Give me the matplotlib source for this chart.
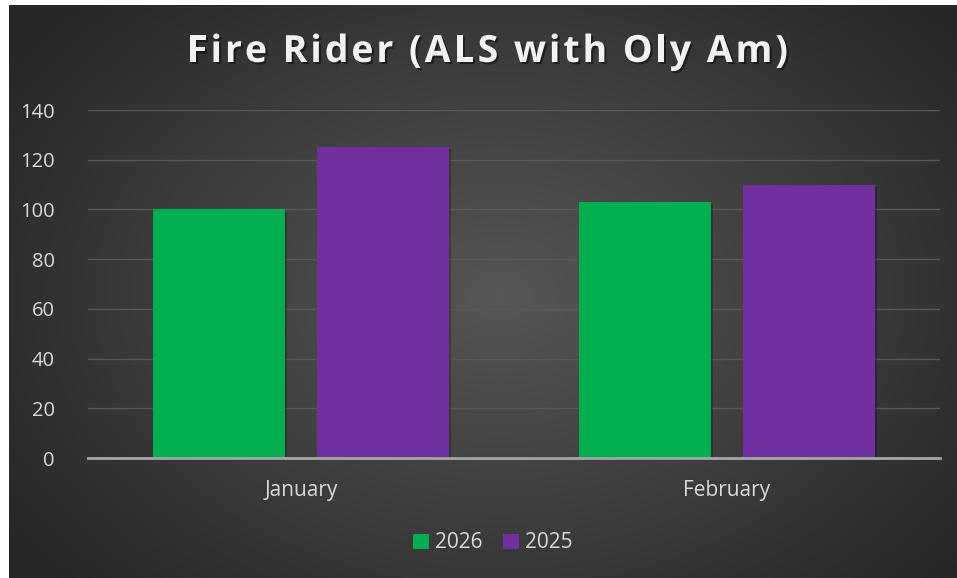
import matplotlib
matplotlib.use("Agg")
import matplotlib.pyplot as plt
import matplotlib.patheffects as pe
import numpy as np

months = ["January", "February"]
series_names = ["2026", "2025"]
vals_2026 = [100, 103]
vals_2025 = [125, 110]
bar_colors = ["#00B050", "#7030A0"]
title = "Fire Rider (ALS with Oly Am)"

plt.rcParams["font.family"] = ["Open Sans", "DejaVu Sans"]

fig = plt.figure(figsize=(9.57, 5.78), dpi=100)
fig.patch.set_facecolor("white")

# dark radial gradient background
bg = fig.add_axes([9 / 957, 0, 948 / 957, 573 / 578])
bg.set_axis_off()
yy, xx = np.mgrid[0:573, 0:948]
r = np.sqrt(((xx - 490) / 600.0) ** 2 + ((yy - 290) / 430.0) ** 2)
r = np.clip(r, 0, 1)
lum = 0.34 - 0.19 * r
img = np.dstack([lum, lum, lum])
bg.imshow(img, aspect="auto", extent=[0, 1, 0, 1])
bg.set_xlim(0, 1)
bg.set_ylim(0, 1)

ax = fig.add_axes([88 / 957, 1 - 458 / 578, 852 / 957, 348 / 578])
ax.set_facecolor("none")

x = np.arange(len(months))
w = 0.31
off = 0.1925
shadow = [pe.SimplePatchShadow(offset=(1.5, -1.5), shadow_rgbFace="black", alpha=0.25), pe.Normal()]
b1 = ax.bar(x - off, vals_2026, w, color=bar_colors[0], label=series_names[0], zorder=3)
b2 = ax.bar(x + off, vals_2025, w, color=bar_colors[1], label=series_names[1], zorder=3)
for b in list(b1) + list(b2):
    b.set_path_effects(shadow)

ax.set_xlim(-0.5, 1.5)
ax.set_ylim(0, 140)
ax.set_yticks(range(0, 141, 20))
ax.set_xticks(x)
ax.set_xticklabels(months)
ax.grid(axis="y", color="#595959", linewidth=1, zorder=0)
for s in ["top", "right", "left"]:
    ax.spines[s].set_visible(False)
ax.spines["bottom"].set_color("#a6a6a6")
ax.spines["bottom"].set_linewidth(2)
ax.spines["bottom"].set_zorder(4)
ax.tick_params(axis="both", length=0, colors="#d9d9d9", labelsize=14.5)
ax.tick_params(axis="x", pad=16, labelsize=15)
ax.tick_params(axis="y", pad=24)

# title with extra letter spacing, drawn char by char
fig.canvas.draw()
renderer = fig.canvas.get_renderer()
tkw = dict(fontsize=27, fontweight="bold", color="#f2f2f2", va="center", ha="left",
           path_effects=[pe.SimplePatchShadow(offset=(1.5, -1.5), shadow_rgbFace="black", alpha=0.45),
                         pe.Normal()])
widths = []
for ch in title:
    t = fig.text(0, 0, "\u00a0" if ch == " " else ch, **tkw)
    widths.append(t.get_window_extent(renderer).width)
    t.remove()
target_w = 601.0
gap = (target_w - sum(widths)) / (len(title) - 1)
xpos = 187.0
for ch, cw in zip(title, widths):
    if ch != " ":
        fig.text(xpos / 957, 1 - 52 / 578, ch, **tkw)
    xpos += cw + gap

leg = fig.legend(loc="center", bbox_to_anchor=(0.515, 1 - 543 / 578), ncol=2, frameon=False,
                 fontsize=15, handlelength=0.75, handleheight=0.75, handletextpad=0.3,
                 columnspacing=1.0, labelcolor="#d9d9d9")
for h in leg.legend_handles:
    h.set_path_effects([])

fig.savefig("out.png", dpi=100, facecolor=fig.get_facecolor())
